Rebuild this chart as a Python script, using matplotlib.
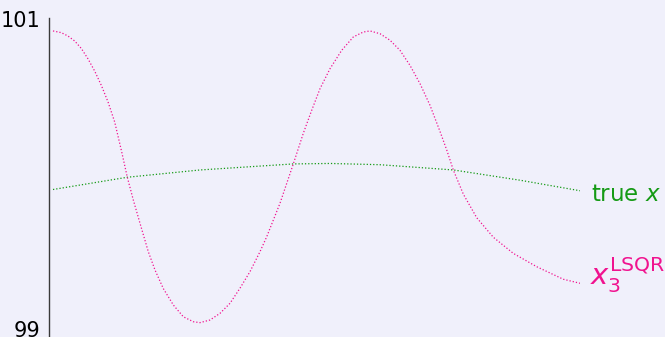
import matplotlib.pyplot as plt

# sample positions (normalised) and values of the two curves
x_lsqr = [0.000, 0.0157, 0.0285, 0.0412, 0.0537, 0.0664, 0.0791, 0.0917, 0.1044, 0.1171,
          0.1300, 0.1410, 0.1524, 0.1651, 0.1808, 0.1935, 0.2093, 0.2283, 0.2473, 0.2662,
          0.2789, 0.2979, 0.3169, 0.3359, 0.3548, 0.3738, 0.3928, 0.4055, 0.4307, 0.4560,
          0.4750, 0.4909, 0.5066, 0.5256, 0.5478, 0.5698, 0.5888, 0.6015, 0.6205, 0.6395,
          0.6584, 0.6774, 0.6964, 0.7154, 0.7343, 0.7471, 0.7596, 0.7786, 0.8040, 0.8355,
          0.8734, 0.9178, 0.9683, 1.0]
y_lsqr = [100.923, 100.912, 100.890, 100.858, 100.810, 100.743, 100.664, 100.572, 100.465, 100.335,
          100.148, 99.979, 99.832, 99.682, 99.499, 99.381, 99.261, 99.155, 99.079, 99.047,
          99.041, 99.058, 99.101, 99.166, 99.263, 99.370, 99.499, 99.595, 99.811, 100.065,
          100.263, 100.411, 100.550, 100.679, 100.798, 100.884, 100.916, 100.923, 100.905, 100.863,
          100.798, 100.701, 100.583, 100.443, 100.275, 100.155, 100.026, 99.870, 99.718, 99.592,
          99.488, 99.402, 99.321, 99.295]

x_true = [0.0, 0.141, 0.279, 0.456, 0.526, 0.620, 0.760, 0.886, 1.0]
y_true = [99.900, 99.979, 100.026, 100.065, 100.068, 100.060, 100.026, 99.960, 99.892]

yticks = [99, 101]

bg = '#f0f0fb'
pink = '#f0138f'
green = '#159a15'

fig = plt.figure(figsize=(6.65, 3.37), dpi=100, facecolor=bg)
ax = fig.add_axes([49 / 665, 0, (580 - 49) / 665, 1 - 18 / 337])
ax.set_facecolor(bg)

ax.plot(x_true, y_true, color=green, lw=0.9, ls=(0, (1, 1.6)))
ax.plot(x_lsqr, y_lsqr, color=pink, lw=0.9, ls=(0, (1, 1.6)))

ax.set_xlim(-4 / 527, 1.0)
ax.set_ylim(101 - 318 / 155, 101 + 1 / 155)
ax.set_xticks([])
ax.set_yticks(yticks)
ax.set_yticklabels([str(t) for t in yticks], fontsize=15)
ax.tick_params(axis='y', length=0, pad=6)
for s in ['top', 'right', 'bottom']:
    ax.spines[s].set_visible(False)
ax.spines['left'].set_color('#3a3a3a')
ax.spines['left'].set_linewidth(1.0)

ax.text(1.021, 99.865, r'true $x$', color=green, fontsize=16.5,
        va='center', ha='left', clip_on=False)
ax.text(1.019, 99.284, r'$x_3^{\mathsf{LSQR}}$', color=pink, fontsize=21,
        va='baseline', ha='left', clip_on=False)

fig.savefig('out.png', dpi=100, facecolor=bg)
